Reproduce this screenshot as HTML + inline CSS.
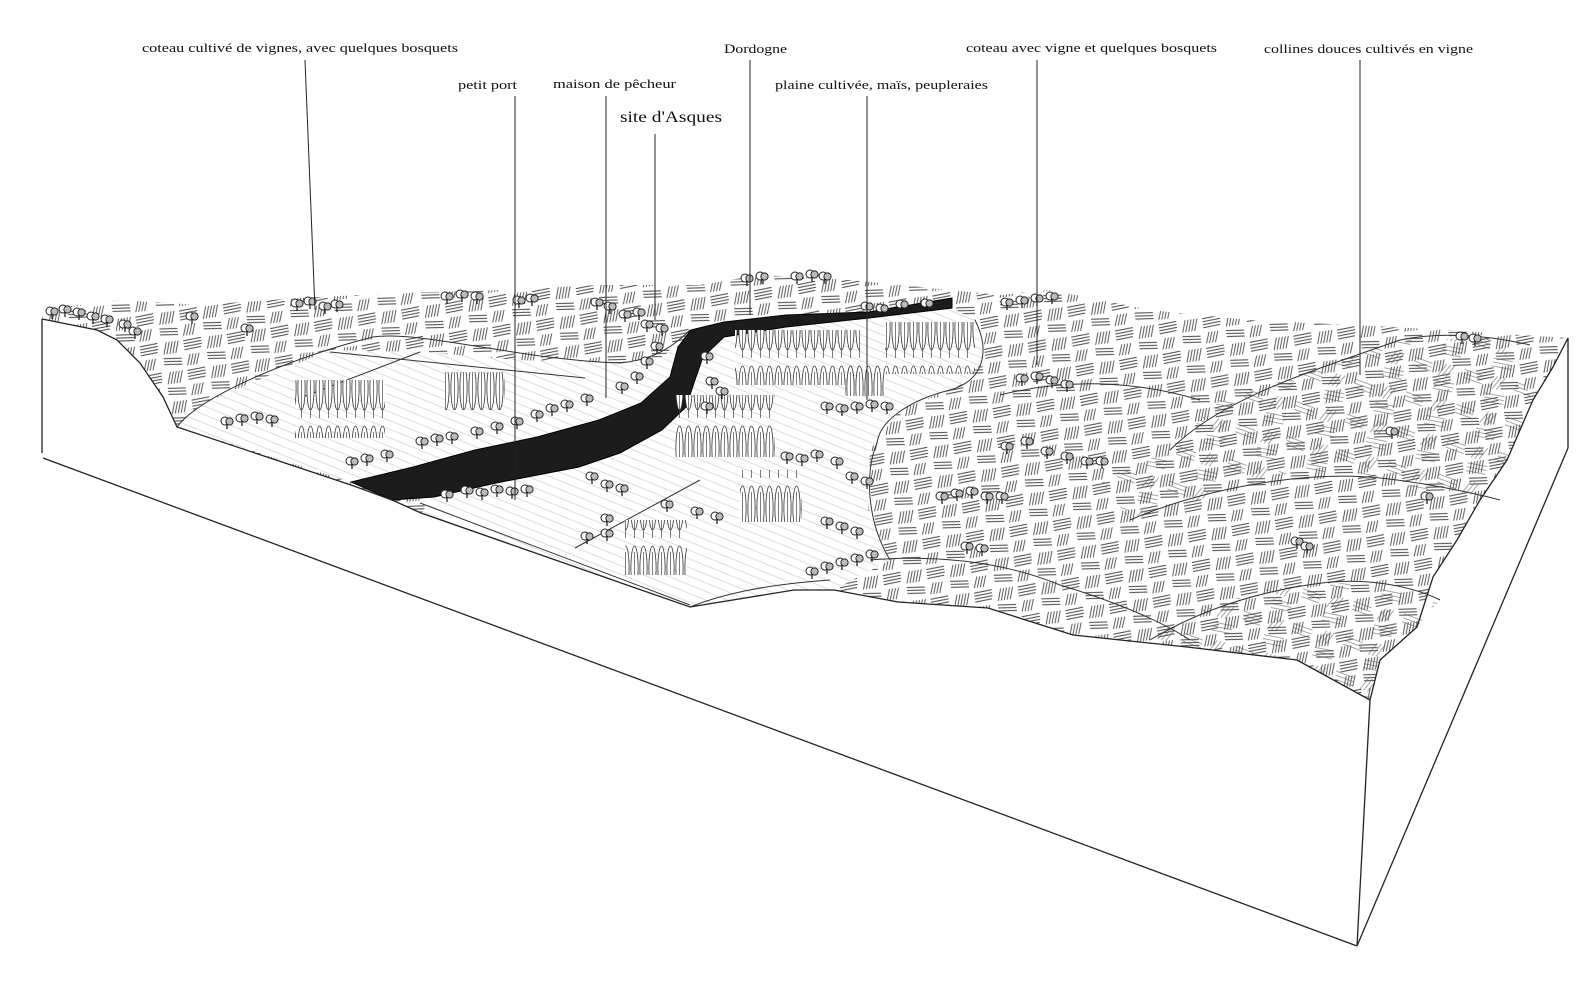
<!DOCTYPE html>
<html><head><meta charset="utf-8"><style>
html,body{margin:0;padding:0;background:#fff;}
svg{display:block;}
text{font-family:"Liberation Serif",serif;fill:#111;}
</style></head><body>
<svg width="1588" height="1005" viewBox="0 0 1588 1005" xmlns="http://www.w3.org/2000/svg">
<defs>
<pattern id="vine" width="44" height="30" patternUnits="userSpaceOnUse" patternTransform="rotate(-8)">
<g stroke="#444" stroke-width="0.9">
<line x1="2" y1="3" x2="20" y2="2"/><line x1="2" y1="6" x2="20" y2="5"/><line x1="2" y1="9" x2="20" y2="8"/><line x1="2" y1="12" x2="19" y2="11"/>
<line x1="25" y1="14" x2="29" y2="2"/><line x1="28" y1="14" x2="32" y2="2"/><line x1="31" y1="14" x2="35" y2="2"/><line x1="34" y1="14" x2="38" y2="2"/><line x1="37" y1="14" x2="41" y2="2"/>
<line x1="3" y1="28" x2="7" y2="17"/><line x1="6" y1="28" x2="10" y2="17"/><line x1="9" y1="28" x2="13" y2="17"/><line x1="12" y1="28" x2="16" y2="17"/>
<line x1="24" y1="18" x2="42" y2="20"/><line x1="24" y1="21" x2="42" y2="23"/><line x1="24" y1="24" x2="42" y2="26"/>
</g></pattern>
<pattern id="vine2" width="52" height="36" patternUnits="userSpaceOnUse" patternTransform="rotate(14)">
<g stroke="#555" stroke-width="0.8">
<line x1="3" y1="4" x2="22" y2="6"/><line x1="3" y1="8" x2="22" y2="10"/><line x1="3" y1="12" x2="22" y2="14"/>
<line x1="30" y1="16" x2="36" y2="3"/><line x1="34" y1="16" x2="40" y2="3"/><line x1="38" y1="16" x2="44" y2="3"/>
<line x1="28" y1="22" x2="48" y2="21"/><line x1="28" y1="26" x2="48" y2="25"/><line x1="28" y1="30" x2="48" y2="29"/>
</g></pattern>
<pattern id="field" width="30" height="8" patternUnits="userSpaceOnUse" patternTransform="rotate(22)">
<line x1="0" y1="4" x2="30" y2="4" stroke="#bbb" stroke-width="0.6"/></pattern>
<pattern id="poplar" width="9" height="60" patternUnits="userSpaceOnUse">
<ellipse cx="4.5" cy="28" rx="3.6" ry="22" fill="#fff" stroke="#333" stroke-width="0.8"/>
<line x1="4.5" y1="12" x2="4.5" y2="58" stroke="#444" stroke-width="0.7"/></pattern>
<symbol id="t" viewBox="0 0 14 14" width="14" height="14">
<circle cx="5" cy="6" r="4" fill="#fff" stroke="#222" stroke-width="1"/>
<circle cx="9.5" cy="6.5" r="3.6" fill="#bbb" stroke="#222" stroke-width="1"/>
<line x1="7" y1="9" x2="7" y2="14" stroke="#111" stroke-width="1.2"/></symbol>
</defs>

<polygon fill="url(#vine)" stroke="none" points="42,319 42,310 80,305 120,300 200,305 300,298 400,293 500,290 600,285 700,285 760,275 850,280 950,290 1000,295 1050,290 1150,310 1250,320 1350,325 1450,330 1520,335 1568,338 1553,367 1533,400 1507,460 1480,500 1457,540 1433,577 1417,627 1380,660 1370,700 1297,660 1187,647 1073,635 988,608 898,602 834,590 794,590 690,607 421,513 392,500 351,485 177,427 163,397 140,363 117,340 97,330"/>
<polygon fill="url(#vine2)" opacity="0.7" points="1170,450 1220,400 1300,375 1400,340 1500,338 1533,400 1507,460 1480,500 1420,490 1300,470 1130,520 1100,480"/>
<polygon fill="url(#vine2)" opacity="0.7" points="1150,640 1200,610 1260,590 1330,582 1420,590 1440,600 1417,627 1380,660 1370,700 1297,660 1187,647"/>

<polygon fill="#fff" points="177,427 200,405 263,378 330,350 420,352 516,360 620,363 661,357 680,345 691,330 678,347 670,377 641,403 599,420 537,437 475,450 413,467 351,482"/>
<polygon fill="url(#field)" points="177,427 200,405 263,378 330,350 420,352 516,360 620,363 661,357 680,345 691,330 678,347 670,377 641,403 599,420 537,437 475,450 413,467 351,482"/>
<polygon fill="#fff" points="952,308 975,320 985,360 960,385 900,410 870,450 868,510 890,560 834,590 794,590 690,607 421,513 434,497 496,483 579,467 620,453 662,430 686,407 695,380 703,357 724,337 786,327 869,318"/>
<polygon fill="url(#field)" points="952,308 975,320 985,360 960,385 900,410 870,450 868,510 890,560 834,590 794,590 690,607 421,513 434,497 496,483 579,467 620,453 662,430 686,407 695,380 703,357 724,337 786,327 869,318"/>

<g stroke="#333" stroke-width="1" fill="none">
<path d="M177,427 C200,395 300,355 373,337 C420,330 520,360 620,363 C650,360 670,350 690,330"/>
<path d="M330,352 L585,378"/><path d="M300,398 L420,352"/><path d="M420,503 L690,605"/>
<path d="M575,548 L700,480"/><path d="M690,607 C720,595 760,585 830,580"/>
<path d="M877,443 C865,470 866,520 890,560"/><path d="M975,320 C990,350 985,380 950,390 C910,400 880,420 877,443"/>
<path d="M1000,395 C1080,375 1150,385 1200,400"/>
<path d="M1170,450 C1220,400 1300,375 1400,340 C1450,330 1500,338 1530,345"/>
<path d="M1130,520 C1200,490 1300,470 1380,478 C1420,482 1470,492 1500,500"/>
<path d="M1150,640 C1200,610 1260,590 1330,582 C1380,578 1420,590 1440,600"/>
<path d="M870,560 C930,555 1000,560 1060,585 C1110,600 1160,620 1190,640"/>
</g>

<polygon fill="#1c1c1c" stroke="#000" stroke-width="1" points="351,482 413,467 475,450 537,437 599,420 641,403 670,377 678,347 691,330 724,322 786,315 869,312 952,298 952,308 869,318 786,327 724,337 703,357 695,380 686,407 662,430 620,453 579,467 496,483 434,497 392,500"/>

<g>
<rect x="295" y="380" width="90" height="58" fill="url(#poplar)"/>
<rect x="445" y="372" width="60" height="38" fill="url(#poplar)"/>
<rect x="675" y="395" width="100" height="62" fill="url(#poplar)"/>
<rect x="735" y="330" width="125" height="55" fill="url(#poplar)"/>
<rect x="885" y="322" width="90" height="52" fill="url(#poplar)"/>
<rect x="740" y="470" width="62" height="52" fill="url(#poplar)"/>
<rect x="625" y="520" width="62" height="55" fill="url(#poplar)"/>
<rect x="845" y="358" width="40" height="38" fill="url(#poplar)"/>
</g>

<g>
<use href="#t" x="45" y="305"/><use href="#t" x="58" y="303"/><use href="#t" x="72" y="306"/><use href="#t" x="86" y="310"/><use href="#t" x="100" y="313"/><use href="#t" x="118" y="318"/><use href="#t" x="128" y="325"/>
<use href="#t" x="185" y="310"/><use href="#t" x="240" y="322"/><use href="#t" x="290" y="297"/><use href="#t" x="303" y="295"/><use href="#t" x="318" y="300"/><use href="#t" x="330" y="298"/>
<use href="#t" x="440" y="290"/><use href="#t" x="455" y="288"/><use href="#t" x="470" y="290"/><use href="#t" x="512" y="294"/><use href="#t" x="525" y="292"/>
<use href="#t" x="590" y="296"/><use href="#t" x="603" y="300"/><use href="#t" x="618" y="308"/><use href="#t" x="632" y="306"/><use href="#t" x="640" y="318"/><use href="#t" x="655" y="322"/>
<use href="#t" x="740" y="272"/><use href="#t" x="755" y="270"/><use href="#t" x="790" y="270"/><use href="#t" x="805" y="268"/><use href="#t" x="818" y="270"/>
<use href="#t" x="1000" y="296"/><use href="#t" x="1015" y="294"/><use href="#t" x="1030" y="292"/><use href="#t" x="1045" y="290"/>
<use href="#t" x="1015" y="372"/><use href="#t" x="1030" y="370"/><use href="#t" x="1045" y="374"/><use href="#t" x="1060" y="378"/>
<use href="#t" x="220" y="415"/><use href="#t" x="235" y="412"/><use href="#t" x="250" y="410"/><use href="#t" x="265" y="413"/>
<use href="#t" x="345" y="455"/><use href="#t" x="360" y="452"/><use href="#t" x="380" y="448"/><use href="#t" x="415" y="435"/><use href="#t" x="430" y="432"/><use href="#t" x="445" y="430"/><use href="#t" x="470" y="425"/><use href="#t" x="490" y="420"/><use href="#t" x="510" y="415"/><use href="#t" x="530" y="408"/><use href="#t" x="545" y="402"/><use href="#t" x="560" y="398"/><use href="#t" x="580" y="392"/><use href="#t" x="615" y="380"/><use href="#t" x="630" y="370"/><use href="#t" x="640" y="355"/><use href="#t" x="650" y="340"/>
<use href="#t" x="440" y="488"/><use href="#t" x="460" y="484"/><use href="#t" x="475" y="486"/><use href="#t" x="490" y="483"/><use href="#t" x="505" y="485"/><use href="#t" x="520" y="483"/>
<use href="#t" x="700" y="350"/><use href="#t" x="705" y="375"/><use href="#t" x="700" y="400"/><use href="#t" x="715" y="385"/>
<use href="#t" x="860" y="300"/><use href="#t" x="875" y="302"/><use href="#t" x="895" y="298"/><use href="#t" x="920" y="297"/>
<use href="#t" x="820" y="400"/><use href="#t" x="835" y="402"/><use href="#t" x="850" y="400"/><use href="#t" x="865" y="398"/><use href="#t" x="880" y="400"/>
<use href="#t" x="780" y="450"/><use href="#t" x="795" y="452"/><use href="#t" x="810" y="448"/><use href="#t" x="830" y="455"/>
<use href="#t" x="585" y="470"/><use href="#t" x="600" y="478"/><use href="#t" x="615" y="482"/><use href="#t" x="600" y="512"/>
<use href="#t" x="580" y="530"/><use href="#t" x="600" y="527"/><use href="#t" x="660" y="498"/><use href="#t" x="690" y="505"/><use href="#t" x="710" y="510"/>
<use href="#t" x="845" y="470"/><use href="#t" x="860" y="475"/><use href="#t" x="820" y="515"/><use href="#t" x="835" y="520"/><use href="#t" x="850" y="525"/>
<use href="#t" x="805" y="565"/><use href="#t" x="820" y="560"/><use href="#t" x="835" y="556"/><use href="#t" x="850" y="552"/><use href="#t" x="865" y="548"/>
<use href="#t" x="935" y="490"/><use href="#t" x="950" y="487"/><use href="#t" x="965" y="485"/><use href="#t" x="980" y="490"/><use href="#t" x="995" y="490"/>
<use href="#t" x="960" y="540"/><use href="#t" x="975" y="542"/><use href="#t" x="1000" y="440"/><use href="#t" x="1020" y="435"/><use href="#t" x="1040" y="445"/><use href="#t" x="1060" y="450"/><use href="#t" x="1080" y="455"/><use href="#t" x="1095" y="455"/>
<use href="#t" x="1455" y="330"/><use href="#t" x="1468" y="332"/><use href="#t" x="1290" y="535"/><use href="#t" x="1300" y="540"/><use href="#t" x="1385" y="425"/><use href="#t" x="1420" y="490"/>
</g>

<g stroke="#222" stroke-width="1.3" fill="none">
<path d="M42,319 L42,453"/>
<path d="M43,458 L1357,946"/>
<path d="M1370,700 L1357,946"/>
<path d="M1357,946 L1568,448"/>
<path d="M1568,338 L1568,448"/>
<polyline points="1568,338 1553,367 1533,400 1507,460 1480,500 1457,540 1433,577 1417,627 1380,660 1370,700 1297,660 1187,647 1073,635 988,608 898,602 834,590 794,590 690,607 421,513 392,500 351,485 177,427 163,397 140,363 117,340 97,330 42,319"/>
</g>

<g stroke="#222" stroke-width="1">
<line x1="305" y1="60" x2="315" y2="310"/>
<line x1="515" y1="96" x2="515" y2="500"/>
<line x1="606" y1="96" x2="606" y2="398"/>
<line x1="655" y1="134" x2="655" y2="320"/>
<line x1="750" y1="60" x2="750" y2="315"/>
<line x1="867" y1="96" x2="867" y2="400"/>
<line x1="1037" y1="60" x2="1037" y2="365"/>
<line x1="1360" y1="60" x2="1360" y2="375"/>
</g>

<g font-size="13">
<text x="142" y="52" textLength="316" lengthAdjust="spacingAndGlyphs">coteau cultivé de vignes, avec quelques bosquets</text>
<text x="458" y="89" textLength="59" lengthAdjust="spacingAndGlyphs">petit port</text>
<text x="553" y="88" textLength="123" lengthAdjust="spacingAndGlyphs">maison de pêcheur</text>
<text x="620" y="122" font-size="16" textLength="102" lengthAdjust="spacingAndGlyphs">site d'Asques</text>
<text x="724" y="53" textLength="63" lengthAdjust="spacingAndGlyphs">Dordogne</text>
<text x="775" y="89" textLength="213" lengthAdjust="spacingAndGlyphs">plaine cultivée, maïs, peupleraies</text>
<text x="966" y="52" textLength="251" lengthAdjust="spacingAndGlyphs">coteau avec vigne et quelques bosquets</text>
<text x="1264" y="53" textLength="209" lengthAdjust="spacingAndGlyphs">collines douces cultivés en vigne</text>
</g>
</svg>
</body></html>
